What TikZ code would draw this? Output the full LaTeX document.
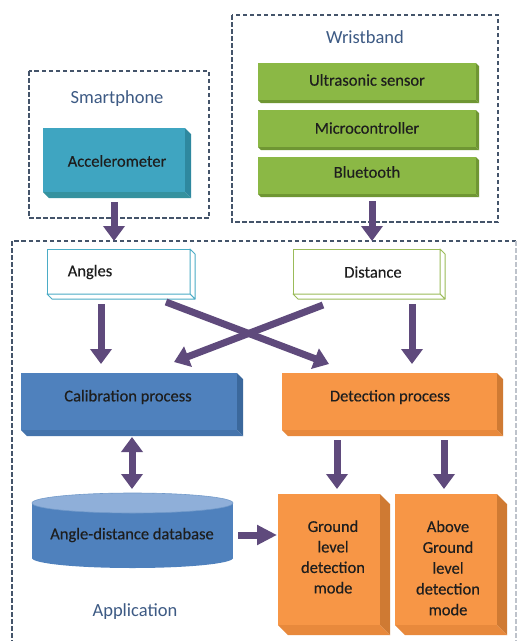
\documentclass[tikz,border=0pt]{standalone}
\usepackage{fontspec}
\setmainfont{Carlito}
\newfontfamily\boxfont[FakeBold=0.35]{Carlito}
\usetikzlibrary{arrows.meta,calc}
\definecolor{dashc}{HTML}{44546A}
\definecolor{labc}{HTML}{3D5A84}
\definecolor{accf}{HTML}{3FA5C1}
\definecolor{accs}{HTML}{2E889F}
\definecolor{accb}{HTML}{35929F}
\definecolor{grnf}{HTML}{8BB845}
\definecolor{grns}{HTML}{6F9633}
\definecolor{bluf}{HTML}{4F81BD}
\definecolor{blus}{HTML}{3B689C}
\definecolor{blub}{HTML}{4574AC}
\definecolor{blut}{HTML}{8FAFD9}
\definecolor{orgf}{HTML}{F79646}
\definecolor{orgs}{HTML}{CF7A33}
\definecolor{orgb}{HTML}{E8893C}
\definecolor{arrc}{HTML}{5F4A7C}
\definecolor{angc}{HTML}{4BACC6}
\definecolor{disc}{HTML}{9BBB59}
\definecolor{txtc}{HTML}{1E1E1E}
\newcommand\extrudebox[4]{%
  \fill[#3] (#1.north east) -- ++(#2,#2) -- ($(#1.south east)+(#2,#2)$) -- (#1.south east) -- cycle;
  \fill[#4] (#1.south west) -- ++(#2,#2) -- ($(#1.south east)+(#2,#2)$) -- (#1.south east) -- cycle;
}
\newcommand\outlinebox[3]{%
  \filldraw[fill=white,draw=#3,line width=1pt,line join=round] (#1.north east) -- ++(#2,#2) -- ($(#1.south east)+(#2,#2)$) -- (#1.south east) -- cycle;
  \filldraw[fill=white,draw=#3,line width=1pt,line join=round] (#1.south west) -- ++(#2,#2) -- ($(#1.south east)+(#2,#2)$) -- (#1.south east) -- cycle;
}
\begin{document}
\begin{tikzpicture}[x=1pt,y=-1pt,
  frontbox/.style={rectangle,inner sep=0pt,outer sep=0pt},
  btxt/.style={font=\boxfont\fontsize{16.5}{20.5}\selectfont,text=txtc,align=center,inner sep=0pt},
  ltxt/.style={font=\fontsize{18.5}{22}\selectfont,text=labc,inner sep=0pt},
  group/.style={draw=dashc,line width=1.5pt,dash pattern=on 4.5pt off 2.5pt},
  arr/.style={draw=arrc,line width=7pt,-{Triangle[width=21pt,length=15pt]}},
  darr/.style={draw=arrc,line width=7pt,{Triangle[width=21pt,length=15pt]}-{Triangle[width=21pt,length=15pt]}}]
\useasboundingbox (0,0) rectangle (519,641);
\fill[white] (0,0) rectangle (519,641);

% group boxes
\draw[group] (29,71) rectangle (209,218);
\draw[group] (232,15) rectangle (498,222);
\draw[group] (516,241) -- (12,241) -- (12,660);
\draw[draw=dashc!35,line width=1.4pt,dash pattern=on 4.5pt off 2.5pt] (516,241) -- (516,660);

\node[ltxt] (lsp) at (117,99) {Smartphone};
\node[ltxt] (lwb) at (365,37) {Wristband};
\node[ltxt] (lapp) at (135,612) {Application};

% smartphone
\node[frontbox,fill=accf,minimum width=142pt,minimum height=64pt] (acc) at (114,160) {};
\extrudebox{acc}{6}{accs}{accb}
\node[btxt] (acct) at (117,161) {Accelerometer};

% wristband
\node[frontbox,fill=grnf,minimum width=218pt,minimum height=37pt] (us) at (367,81.5) {};
\extrudebox{us}{3}{grns}{grns}
\node[btxt] (ust) at (367,80) {Ultrasonic sensor};
\node[frontbox,fill=grnf,minimum width=218pt,minimum height=37pt] (mc) at (367,128.5) {};
\extrudebox{mc}{3}{grns}{grns}
\node[btxt] (mct) at (367,128) {Microcontroller};
\node[frontbox,fill=grnf,minimum width=218pt,minimum height=37pt] (bt) at (367,175.5) {};
\extrudebox{bt}{3}{grns}{grns}
\node[btxt] (btt) at (367,172) {Bluetooth};

% angles / distance
\node[frontbox,fill=white,draw=angc,line width=1pt,minimum width=143pt,minimum height=45pt] (ang) at (118.5,271.5) {};
\outlinebox{ang}{5}{angc}
\node[btxt] (angt) at (90,272) {Angles};
\node[frontbox,fill=white,draw=disc,line width=1pt,minimum width=147pt,minimum height=45pt] (dis) at (366.5,271.5) {};
\outlinebox{dis}{5}{disc}
\node[btxt] (dist) at (373,272) {Distance};

% processes
\node[frontbox,fill=bluf,minimum width=216pt,minimum height=57pt] (cal) at (129,401.5) {};
\extrudebox{cal}{6}{blus}{blub}
\node[btxt] (calt) at (128,397) {Calibration process};
\node[frontbox,fill=orgf,minimum width=215pt,minimum height=57pt] (det) at (389.5,401.5) {};
\extrudebox{det}{6}{orgs}{orgb}
\node[btxt] (dett) at (390,397) {Detection process};

% database
\fill[bluf] (32,503) rectangle (233,558);
\fill[bluf] (132.5,558) ellipse[x radius=100.5pt,y radius=10pt];
\fill[blut] (132.5,503) ellipse[x radius=100.5pt,y radius=10pt];
\draw[bluf!80!white,line width=0.6pt] (132.5,503) ellipse[x radius=100.5pt,y radius=10pt];
\node[btxt] (db) at (132,535) {Angle-distance database};

% modes
\node[frontbox,fill=orgf,minimum width=102pt,minimum height=131pt] (gnd) at (329,559.5) {};
\extrudebox{gnd}{10}{orgs}{orgb}
\node[btxt] (gndt) at (333,557) {Ground\\level\\detection\\mode};
\node[frontbox,fill=orgf,minimum width=102pt,minimum height=131pt] (abv) at (446,559.5) {};
\extrudebox{abv}{10}{orgs}{orgb}
\node[btxt,font=\boxfont\fontsize{16.5}{20.8}\selectfont] (abvt) at (448,568) {Above\\Ground\\level\\detection\\mode};

% arrow end points
\coordinate (a1s) at (114,202); \coordinate (a1e) at (114,241);
\coordinate (a2s) at (372,201); \coordinate (a2e) at (372,241);
\coordinate (a3s) at (101,304); \coordinate (a3e) at (101,364);
\coordinate (a4s) at (412,304); \coordinate (a4e) at (412,364);
\coordinate (a5s) at (166,302); \coordinate (a5e) at (329,364);
\coordinate (a6s) at (323,305); \coordinate (a6e) at (174,362);
\coordinate (a7s) at (132,437); \coordinate (a7e) at (132,489);
\coordinate (a8s) at (337,440); \coordinate (a8e) at (337,489);
\coordinate (a9s) at (444,440); \coordinate (a9e) at (444,489);
\coordinate (a10s) at (238,535); \coordinate (a10e) at (277,535);

\draw[arr] (a1s) -- (a1e);
\draw[arr] (a2s) -- (a2e);
\draw[arr] (a3s) -- (a3e);
\draw[arr] (a4s) -- (a4e);
\draw[arr] (a5s) -- (a5e);
\draw[arr] (a6s) -- (a6e);
\draw[darr] (a7s) -- (a7e);
\draw[arr] (a8s) -- (a8e);
\draw[arr] (a9s) -- (a9e);
\draw[arr,-{Triangle[width=19pt,length=20pt]}] (a10s) -- (a10e);
\end{tikzpicture}
\end{document}
